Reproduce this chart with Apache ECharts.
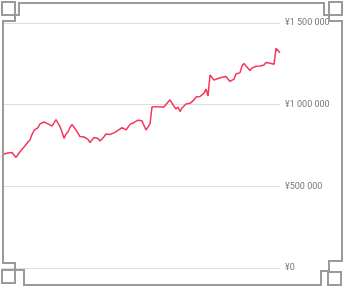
<!DOCTYPE html>
<html>
<head>
<meta charset="utf-8">
<script src="https://cdn.jsdelivr.net/npm/echarts@6/dist/echarts.min.js"></script>
<style>
html,body{margin:0;padding:0;background:#fff;}
#c{width:344px;height:288px;}
</style>
</head>
<body>
<div id="c"></div>
<script>
const values = [
683000,698000,705000,704000,712000,707000,692000,677000,689000,712000,
710000,741000,753000,771000,784000,817000,842000,853000,860000,882000,
893000,894000,888000,882000,875000,869000,888000,908000,906000,866000,
833000,794000,820000,833000,860000,879000,875000,845000,839000,805000,
805000,802000,797000,787000,768000,774000,799000,805000,793000,778000,
778000,804000,820000,814000,817000,823000,827000,839000,843000,836000,
860000,855000,845000,854000,879000,886000,891000,896000,905000,898000,
901000,903000,845000,839000,882000,986000,980000,988000,984000,986000,
988000,986000,998000,1016000,1029000,1010000,989000,973000,986000,958000,
980000,992000,1004000,1007000,1008000,1013000,1029000,1047000,1039000,1050000,
1056000,1071000,1096000,1053000,1182000,1188000,1151000,1151000,1160000,1163000,
1168000,1172000,1172000,1166000,1142000,1133000,1157000,1188000,1182000,1196000,
1237000,1253000,1237000,1249000,1209000,1224000,1235000,1235000,1232000,1237000,
1241000,1243000,1258000,1257000,1253000,1256000,1247000,1345000,1341000,1318000
];
const categories = values.map((v, i) => 'D' + (i + 1));
const yTicks = [0, 500000, 1000000, 1500000];

const chart = echarts.init(document.getElementById('c'));
const frameColor = '#9a9a9a';
const lw = 2;
function pl(points){ return {type:'polyline', shape:{points:points}, style:{stroke:frameColor, lineWidth:lw, fill:null}, z:100}; }
function sq(x,y){ return {type:'rect', shape:{x:x,y:y,width:13,height:13}, style:{stroke:frameColor, lineWidth:lw, fill:null}, z:100}; }

chart.setOption({
  animation:false,
  backgroundColor:'#fff',
  grid:{left:2, right:64, top:23, bottom:20},
  xAxis:{type:'category', data:categories, boundaryGap:false, show:false},
  yAxis:{
    type:'value', position:'right', min:yTicks[0], max:yTicks[yTicks.length-1], interval:500000,
    axisLine:{show:false}, axisTick:{show:false},
    splitLine:{lineStyle:{color:'#dedede', width:1}},
    axisLabel:{color:'#777', fontSize:9, fontFamily:'Roboto', margin:5,
      formatter:function(v){ return '¥' + String(v).replace(/\B(?=(\d{3})+(?!\d))/g, ' '); }}
  },
  series:[{type:'line', data:values, showSymbol:false, lineStyle:{color:'#f5365c', width:1.5}, itemStyle:{color:'#f5365c'}}],
  graphic:[
    sq(2,2), sq(329,2), sq(328,272), sq(2,270),
    pl([[15,15],[19,15],[19,3],[324,3],[324,15],[329,15]]),
    pl([[329,15],[329,21],[342,21],[342,261],[329,261],[329,272]]),
    pl([[328,271],[321,271],[321,285],[24,285],[24,270],[15,270]]),
    pl([[15,270],[15,263],[3,263],[3,21],[15,21],[15,15]])
  ]
});
</script>
</body>
</html>
